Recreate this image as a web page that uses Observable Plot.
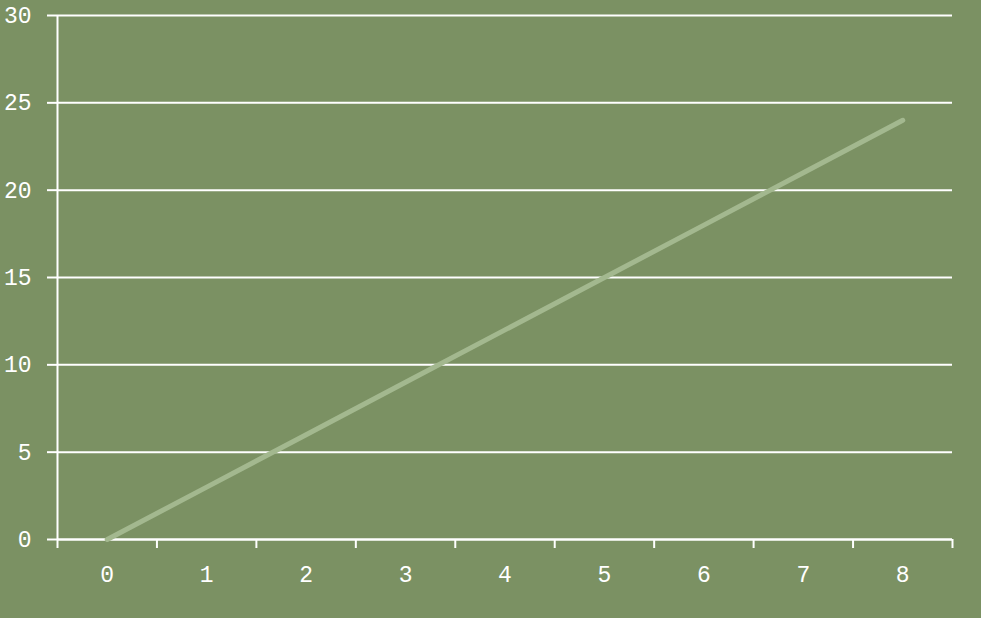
<!DOCTYPE html>
<html><head><meta charset="utf-8">
<script src="https://cdn.jsdelivr.net/npm/d3@7"></script>
<script src="https://cdn.jsdelivr.net/npm/@observablehq/plot@0.6"></script>
<style>
html,body{margin:0;padding:0;background:#7b9163;}
</style></head>
<body><div id="chart"></div>
<script>
const xValues = [0, 1, 2, 3, 4, 5, 6, 7, 8];
const yValues = [0, 3, 6, 9, 12, 15, 18, 21, 24];
const yTicks = [0, 5, 10, 15, 20, 25, 30];
const xBoundaries = [-0.5, 0.5, 1.5, 2.5, 3.5, 4.5, 5.5, 6.5, 7.5, 8.5];

const data = xValues.map((x, i) => ({x, y: yValues[i]}));

const chart = Plot.plot({
  width: 981, height: 618,
  marginLeft: 57, marginRight: 29, marginTop: 15, marginBottom: 79,
  style: {background: "#7b9163", color: "white", fontFamily: "'Liberation Mono', monospace", fontSize: "23px"},
  x: {domain: [-0.5, 8.5]},
  y: {domain: [0, 30]},
  marks: [
    Plot.ruleY(yTicks, {stroke: "white", strokeWidth: 2}),
    Plot.axisY({ticks: yTicks, tickSize: 10, tickPadding: 16, stroke: "white", strokeWidth: 2, strokeOpacity: 1, label: null, fill: "white", fontSize: 23}),
    Plot.ruleX([-0.5], {stroke: "white", strokeWidth: 2}),
    Plot.ruleY([0], {stroke: "white", strokeWidth: 2}),
    Plot.axisX({ticks: xBoundaries, tickSize: 9, tickFormat: () => "", stroke: "white", strokeWidth: 2, strokeOpacity: 1, label: null}),
    Plot.axisX({ticks: xValues, tickSize: 0, tickPadding: 26, label: null, fill: "white", fontSize: 23}),
    Plot.lineY(data, {x: "x", y: "y", stroke: "#a3b88f", strokeWidth: 5, strokeLinecap: "round"})
  ]
});
document.getElementById("chart").appendChild(chart);
</script>
</body></html>
